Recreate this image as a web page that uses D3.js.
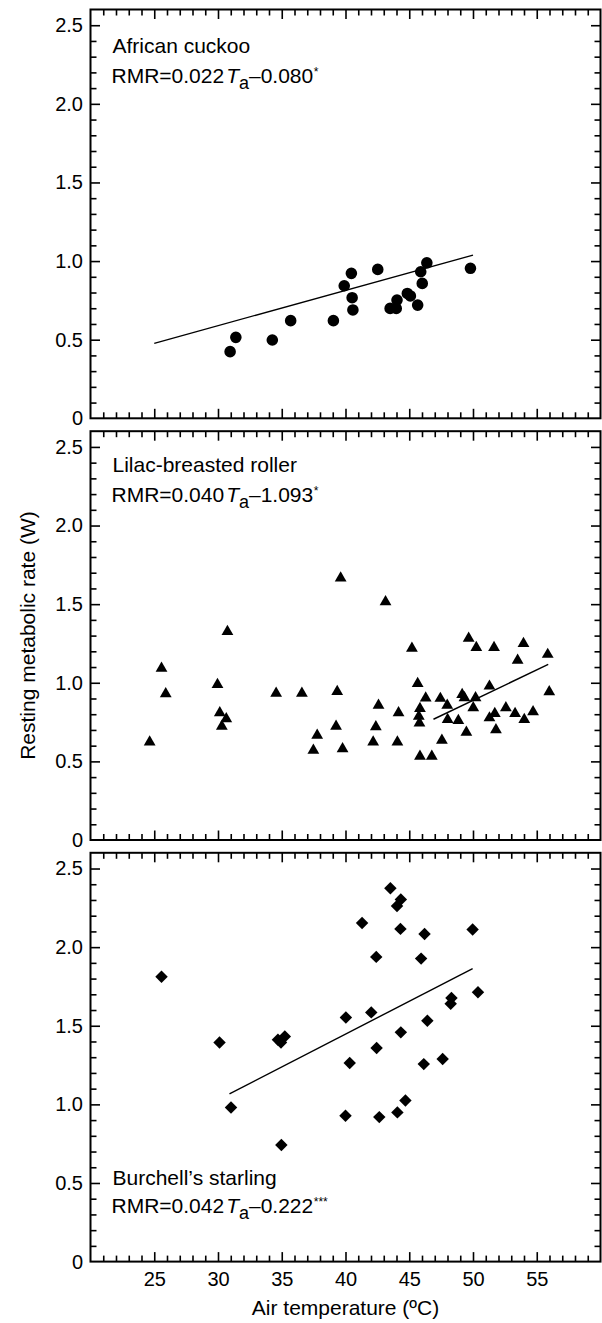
<!DOCTYPE html>
<html>
<head>
<meta charset="utf-8">
<script src="https://cdn.jsdelivr.net/npm/d3@7"></script>
<style>
  html, body { margin: 0; padding: 0; background: #fff; }
  svg { display: block; }
  text { font-family: "Liberation Sans", Arial, Helvetica, sans-serif; fill: #000; }
</style>
</head>
<body>
<svg id="chart" width="602" height="1323"></svg>
<script>
// ---------------- DATA ----------------
const xTickLabels = [25, 30, 35, 40, 45, 50, 55];
const yTickLabels = [0, 0.5, 1.0, 1.5, 2.0, 2.5];

// African cuckoo
const cuckooTa  = [30.95, 31.4, 34.26, 35.7, 39.05, 39.9, 40.46, 40.52, 40.58, 42.53, 43.5, 44.04, 43.98, 44.85, 45.09, 45.66, 45.9, 46.02, 46.38, 49.8];
const cuckooRMR = [0.424, 0.515, 0.498, 0.621, 0.621, 0.843, 0.922, 0.767, 0.689, 0.947, 0.699, 0.752, 0.699, 0.794, 0.778, 0.72, 0.932, 0.858, 0.989, 0.954];
const cuckooFitTa  = [25, 50];
const cuckooFitRMR = [0.477, 1.038];

// Lilac-breasted roller
const rollerTa  = [24.64, 25.57, 25.9, 29.96, 30.14, 30.3, 30.65, 30.74, 34.56, 36.58, 37.48, 37.78, 39.26, 39.35, 39.62, 39.77, 42.17, 42.38, 42.59, 43.14, 44.07, 44.16, 45.21, 45.66, 45.75, 45.84, 45.8, 45.84, 46.29, 46.77, 47.44, 47.56, 47.98, 48.01, 48.85, 49.15, 49.33, 49.48, 49.66, 50.02, 50.2, 50.26, 51.29, 51.29, 51.65, 51.71, 51.8, 52.58, 53.3, 53.5, 53.96, 54.02, 54.71, 55.86, 55.98];
const rollerRMR = [0.634, 1.102, 0.94, 1.0, 0.819, 0.734, 0.781, 1.336, 0.943, 0.943, 0.581, 0.677, 0.734, 0.955, 1.677, 0.591, 0.634, 0.73, 0.868, 1.526, 0.634, 0.819, 1.23, 1.006, 0.798, 0.847, 0.755, 0.543, 0.913, 0.543, 0.911, 0.645, 0.868, 0.777, 0.77, 0.936, 0.915, 0.696, 1.294, 0.851, 0.915, 1.234, 0.989, 0.787, 1.234, 0.815, 0.711, 0.851, 0.815, 1.153, 1.26, 0.777, 0.826, 1.191, 0.953];
const rollerFitTa  = [46.9, 55.9];
const rollerFitRMR = [0.768, 1.117];

// Burchell's starling
const starlingTa  = [25.57, 30.12, 31.02, 34.7, 34.94, 35.24, 34.97, 40.0, 40.03, 40.33, 41.3, 42.02, 42.41, 42.44, 42.65, 43.52, 44.04, 44.34, 44.31, 44.07, 44.34, 44.7, 45.93, 46.14, 46.2, 46.42, 47.62, 48.25, 48.31, 49.97, 50.39];
const starlingRMR = [1.812, 1.394, 0.98, 1.411, 1.394, 1.432, 0.741, 0.927, 1.553, 1.263, 2.154, 1.585, 1.938, 1.358, 0.919, 2.375, 2.262, 2.303, 2.116, 0.949, 1.458, 1.025, 1.927, 1.256, 2.084, 1.532, 1.288, 1.64, 1.677, 2.112, 1.713];
const starlingFitTa  = [30.9, 49.97];
const starlingFitRMR = [1.067, 1.863];

const speciesNames = ["African cuckoo", "Lilac-breasted roller", "Burchell\u2019s starling"];
const slopes       = ["0.022", "0.040", "0.042"];
const intercepts   = ["0.080", "1.093", "0.222"];
const signif       = ["*", "*", "***"];

// ---------------- LAYOUT ----------------
const W = 602, H = 1323;
const plotLeft = 90.5, plotRight = 600.5;
const panelTops = [9.5, 431.2, 852.8];
const panelH = 408.8;
const font = '"Liberation Sans", Arial, Helvetica, sans-serif';

const svg = d3.select("#chart");

const x = d3.scaleLinear().domain([20, 60]).range([plotLeft, plotRight]);

const panels = [
  { ta: cuckooTa, rmr: cuckooRMR, fitTa: cuckooFitTa, fitRMR: cuckooFitRMR, marker: "circle", labelPos: "top" },
  { ta: rollerTa, rmr: rollerRMR, fitTa: rollerFitTa, fitRMR: rollerFitRMR, marker: "triangle", labelPos: "top" },
  { ta: starlingTa, rmr: starlingRMR, fitTa: starlingFitTa, fitRMR: starlingFitRMR, marker: "diamond", labelPos: "bottom" }
];

const xMinor = d3.range(21, 60, 1).filter(v => v % 5 !== 0);
const xMajor = d3.range(25, 60, 5);
const yMinor = d3.range(1, 26).map(v => v / 10).filter(v => Math.round(v * 10) % 5 !== 0);
const yMajor = [0.5, 1.0, 1.5, 2.0, 2.5];

const majLen = 9.5, minLen = 6;

panels.forEach((p, i) => {
  const top = panelTops[i];
  const y = d3.scaleLinear().domain([0, 2.6]).range([top + panelH, top]);
  const g = svg.append("g");

  // ticks (inward) on all four sides
  function addAxis(axisGen, transform) {
    const a = g.append("g").attr("transform", transform).call(axisGen);
    a.select(".domain").remove();
    a.selectAll("line").attr("stroke", "#000").attr("stroke-width", 1.6);
  }
  addAxis(d3.axisBottom(x).tickValues(xMinor).tickSize(-minLen).tickFormat(""), `translate(0,${top + panelH})`);
  addAxis(d3.axisBottom(x).tickValues(xMajor).tickSize(-majLen).tickFormat(""), `translate(0,${top + panelH})`);
  addAxis(d3.axisTop(x).tickValues(xMinor).tickSize(-minLen).tickFormat(""), `translate(0,${top})`);
  addAxis(d3.axisTop(x).tickValues(xMajor).tickSize(-majLen).tickFormat(""), `translate(0,${top})`);
  addAxis(d3.axisLeft(y).tickValues(yMinor).tickSize(-minLen).tickFormat(""), `translate(${plotLeft},0)`);
  addAxis(d3.axisLeft(y).tickValues(yMajor).tickSize(-majLen).tickFormat(""), `translate(${plotLeft},0)`);
  addAxis(d3.axisRight(y).tickValues(yMinor).tickSize(-minLen).tickFormat(""), `translate(${plotRight},0)`);
  addAxis(d3.axisRight(y).tickValues(yMajor).tickSize(-majLen).tickFormat(""), `translate(${plotRight},0)`);

  // y tick labels
  const yl = g.append("g").attr("transform", `translate(${plotLeft},0)`)
    .call(d3.axisLeft(y).tickValues(yTickLabels).tickSize(0).tickPadding(7.5)
      .tickFormat(v => v === 0 ? "0" : d3.format(".1f")(v)));
  yl.select(".domain").remove();
  yl.selectAll("text").attr("font-family", font).attr("font-size", 20).attr("fill", "#000");

  // frame
  g.append("rect")
    .attr("x", plotLeft).attr("y", top)
    .attr("width", plotRight - plotLeft).attr("height", panelH)
    .attr("fill", "none").attr("stroke", "#000").attr("stroke-width", 2);

  // regression line
  const fit = p.fitTa.map((t, k) => [t, p.fitRMR[k]]);
  g.append("path")
    .attr("d", d3.line().x(d => x(d[0])).y(d => y(d[1]))(fit))
    .attr("fill", "none").attr("stroke", "#000").attr("stroke-width", 1.4);

  // points
  const pts = p.ta.map((t, k) => [t, p.rmr[k]]);
  let sym, rot = 0, dyOff = 0;
  if (p.marker === "circle") {
    sym = d3.symbol(d3.symbolCircle, Math.PI * 5.8 * 5.8);
  } else if (p.marker === "triangle") {
    const side = 11.8;
    sym = d3.symbol(d3.symbolTriangle, side * side * Math.sqrt(3) / 4);
    dyOff = (side * Math.sqrt(3) / 2) / 6;
  } else {
    const s = 8.8;
    sym = d3.symbol(d3.symbolSquare, s * s);
    rot = 45;
  }
  g.append("g").selectAll("path").data(pts).join("path")
    .attr("d", sym)
    .attr("transform", d => `translate(${x(d[0])},${y(d[1]) + dyOff}) rotate(${rot})`)
    .attr("fill", "#000");

  // species label + equation
  let y1, y2;
  if (p.labelPos === "top") {
    y1 = top + (i === 0 ? 43.2 : 40.5);
    y2 = top + (i === 0 ? 73.8 : 70.5);
  } else {
    y1 = top + 332.2;
    y2 = top + 360.5;
  }
  g.append("text").attr("x", 112.5).attr("y", y1)
    .attr("font-size", 21).text(speciesNames[i]);
  const eq = g.append("text").attr("x", 111.5).attr("y", y2).attr("font-size", 21);
  eq.append("tspan").text("RMR=" + slopes[i]);
  eq.append("tspan").attr("dx", 2).attr("font-style", "italic").text("T");
  eq.append("tspan").attr("dy", 6).attr("font-size", 18).text("a");
  eq.append("tspan").attr("dy", -6).attr("font-size", 21).text("\u2013" + intercepts[i]);
  eq.append("tspan").attr("dy", -7).attr("dx", 0.5).attr("font-size", 12).text(signif[i]);
});

// x tick labels on bottom panel
const bottomY = panelTops[2] + panelH;
const xl = svg.append("g").attr("transform", `translate(0,${bottomY})`)
  .call(d3.axisBottom(x).tickValues(xTickLabels).tickSize(0).tickPadding(10).tickFormat(d3.format("d")));
xl.select(".domain").remove();
xl.selectAll("text").attr("font-family", font).attr("font-size", 20).attr("fill", "#000");

// axis titles
svg.append("text")
  .attr("x", (plotLeft + plotRight) / 2).attr("y", 1315)
  .attr("text-anchor", "middle").attr("font-size", 21)
  .text("Air temperature (\u00BAC)");

svg.append("text")
  .attr("transform", `translate(34.5,${(panelTops[0] + bottomY) / 2}) rotate(-90)`)
  .attr("text-anchor", "middle").attr("font-size", 21)
  .text("Resting metabolic rate (W)");
</script>
</body>
</html>
